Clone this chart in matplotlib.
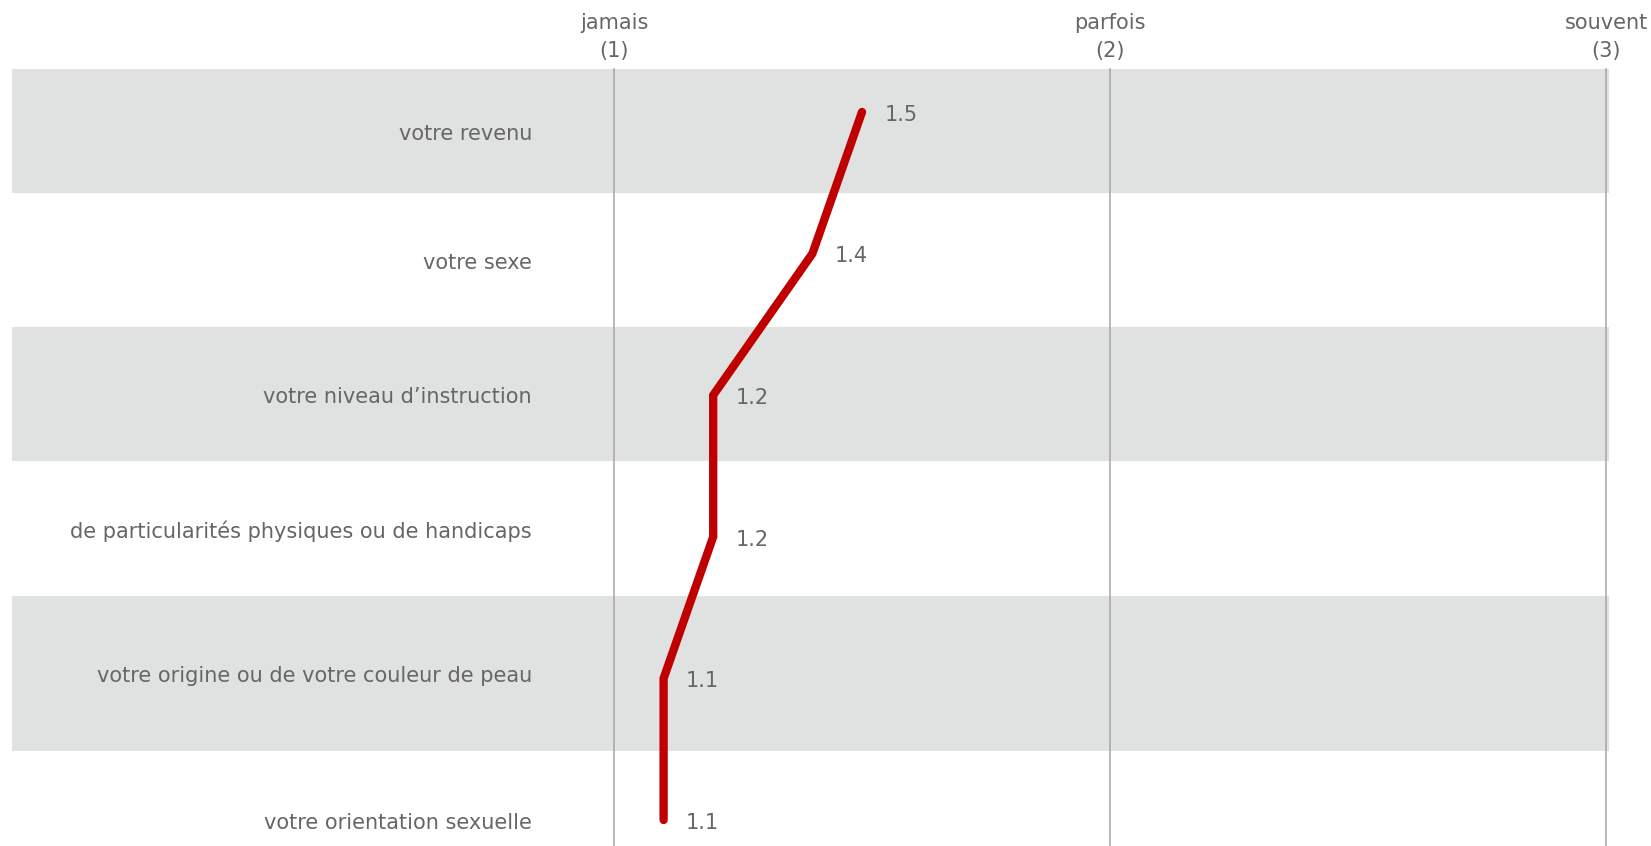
import matplotlib.pyplot as plt

# survey answers: how often were you discriminated against because of ...
categories = [
    "votre revenu",
    "votre sexe",
    "votre niveau d\u2019instruction",
    "de particularités physiques ou de handicaps",
    "votre origine ou de votre couleur de peau",
    "votre orientation sexuelle",
]
scores = [1.5, 1.4, 1.2, 1.2, 1.1, 1.1]
scale_ticks = [1, 2, 3]
scale_labels = ["jamais\n(1)", "parfois\n(2)", "souvent\n(3)"]

W, H = 1651, 846
TEXT = "#666666"
BAND = "#e0e1e1"
RED = "#c00000"
GRID = "#a6a6a6"

# pixel layout of the figure
X1_PX, X3_PX = 614, 1606            # positions of scale 1 and 3
ROW0_PX, ROW_STEP_PX = 112, 141.6   # first point row and row spacing
BAND_EDGES_PX = [69.5, 192.7, 327.5, 461.2, 596, 750.8, 890]
BAND_LEFT_PX, BAND_RIGHT_PX = 11.5, 1609
LABEL_RIGHT_PX = 532

px_per_unit = (X3_PX - X1_PX) / 2


def px_to_x(p):
    return 1 + (p - X1_PX) / px_per_unit


def px_to_y(p):
    return (p - ROW0_PX) / ROW_STEP_PX


plt.rcParams['font.family'] = ['DejaVu Sans']

fig = plt.figure(figsize=(W / 100, H / 100), dpi=100)
ax = fig.add_axes([0, 0, 1, 1])
ax.set_xlim(px_to_x(0), px_to_x(W))
ax.set_ylim(px_to_y(H), px_to_y(0))
ax.axis('off')

# alternating row bands
for i in range(len(categories)):
    top, bottom = px_to_y(BAND_EDGES_PX[i]), px_to_y(BAND_EDGES_PX[i + 1])
    if i % 2 == 0:
        ax.fill_between([px_to_x(BAND_LEFT_PX), px_to_x(BAND_RIGHT_PX)], top, bottom,
                        color=BAND, linewidth=0, zorder=0)
    ax.text(px_to_x(LABEL_RIGHT_PX), (top + bottom) / 2 + 0.02, categories[i],
            ha='right', va='center', fontsize=15, color=TEXT)

# scale lines and headers
for t, lab in zip(scale_ticks, scale_labels):
    ax.plot([t, t], [px_to_y(BAND_EDGES_PX[0]), px_to_y(H)], color=GRID,
            linewidth=1.1, zorder=1)
    ax.text(t, px_to_y(37), lab, ha='center', va='center', fontsize=15,
            color=TEXT, linespacing=1.45)

rows = list(range(len(scores)))
ax.plot(scores, rows, color=RED, linewidth=6, solid_capstyle='round',
        solid_joinstyle='miter', zorder=3)

for s, r in zip(scores, rows):
    ax.annotate(f"{s:.1f}", (s, r), xytext=(16, -2), textcoords='offset points',
                ha='left', va='center', fontsize=15, color=TEXT)

fig.savefig("out.png", dpi=100)
